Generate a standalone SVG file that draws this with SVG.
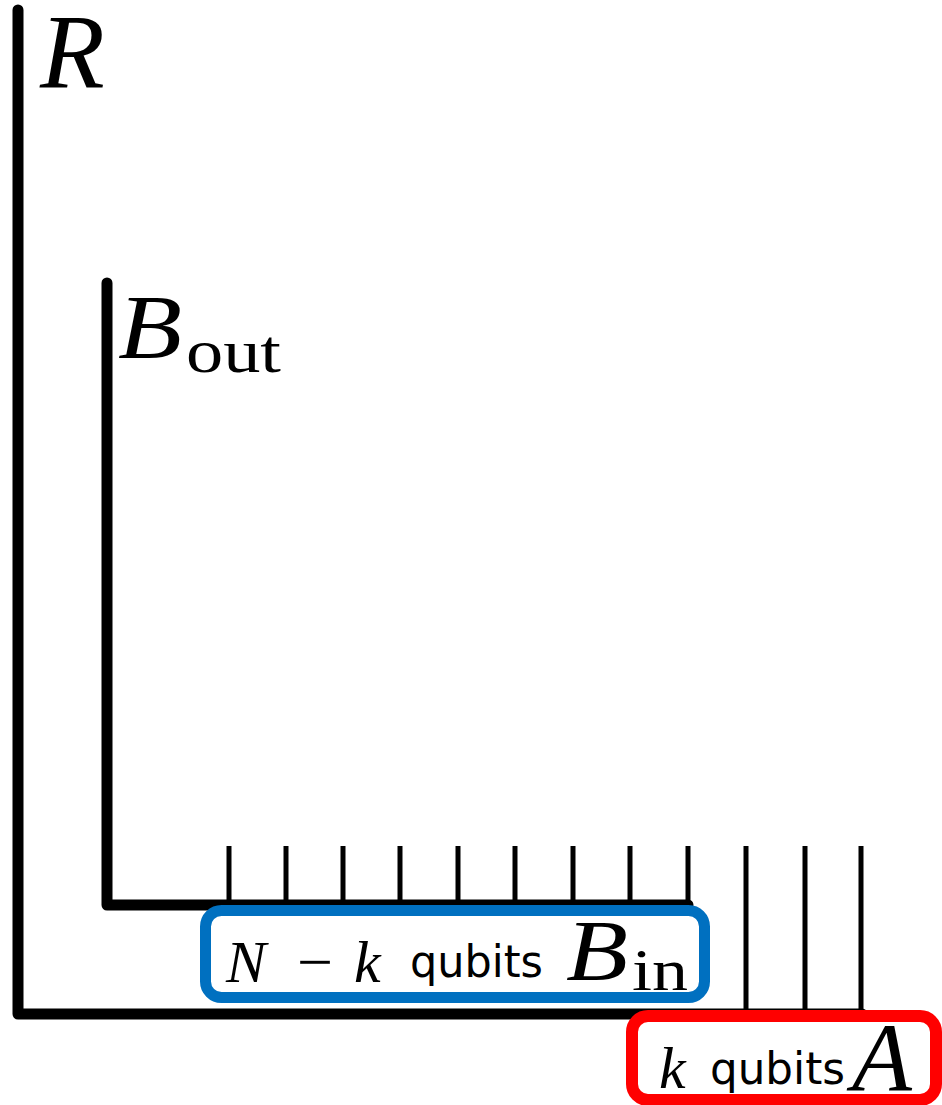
<svg xmlns="http://www.w3.org/2000/svg" width="942" height="1105" viewBox="0 0 942 1105">
<style>
.w{stroke:#000;fill:none;stroke-linecap:round;stroke-linejoin:round}
.thick{stroke-width:11}
.tick{stroke-width:5;stroke-linecap:butt}
.m{font-family:"Liberation Serif","DejaVu Serif",serif;font-style:italic;fill:#000}
.u{font-family:"Liberation Serif","DejaVu Serif",serif;fill:#000}
.s{font-family:"DejaVu Sans","Liberation Sans",sans-serif;fill:#000}
</style>
<rect width="942" height="1105" fill="#fff"/>
<g id="connectors">
  <path class="w thick" d="M18,10 V1014 H862"/>
  <path class="w thick" d="M107,283 V905 H688"/>
  <g class="w tick">
    <line x1="229" y1="846" x2="229" y2="905"/>
    <line x1="286" y1="846" x2="286" y2="905"/>
    <line x1="343" y1="846" x2="343" y2="905"/>
    <line x1="400" y1="846" x2="400" y2="905"/>
    <line x1="458" y1="846" x2="458" y2="905"/>
    <line x1="515" y1="846" x2="515" y2="905"/>
    <line x1="573" y1="846" x2="573" y2="905"/>
    <line x1="630" y1="846" x2="630" y2="905"/>
    <line x1="688" y1="846" x2="688" y2="905"/>
    <line x1="746" y1="846" x2="746" y2="1014"/>
    <line x1="805" y1="846" x2="805" y2="1014"/>
    <line x1="861" y1="846" x2="861" y2="1014"/>
  </g>
</g>
<g id="R">
  <text class="m" x="40" y="87" font-size="106">R</text>
</g>
<g id="Bout">
  <text class="m" x="118" y="358" font-size="90" textLength="64" lengthAdjust="spacingAndGlyphs">B</text>
  <text class="u" x="186" y="372" font-size="62" textLength="95" lengthAdjust="spacingAndGlyphs">out</text>
</g>
<g id="Bin">
  <rect x="205.5" y="910.5" width="499" height="87" rx="16" fill="#fff" stroke="#0070C0" stroke-width="11"/>
  <text class="m" x="226" y="982" font-size="60">N</text>
  <text class="u" x="297" y="982" font-size="60" textLength="36" lengthAdjust="spacingAndGlyphs">−</text>
  <text class="m" x="354" y="982" font-size="60">k</text>
  <text class="s" x="410" y="977" font-size="44" textLength="133" lengthAdjust="spacingAndGlyphs">qubits</text>
  <text class="m" x="566" y="980" font-size="86" textLength="62" lengthAdjust="spacingAndGlyphs">B</text>
  <text class="u" x="632" y="990" font-size="60" textLength="56" lengthAdjust="spacingAndGlyphs">in</text>
</g>
<g id="A">
  <rect x="632" y="1016" width="304" height="84" rx="16" fill="#fff" stroke="#FF0000" stroke-width="12"/>
  <text class="m" x="659" y="1088" font-size="60">k</text>
  <text class="s" x="710" y="1084" font-size="44" textLength="135" lengthAdjust="spacingAndGlyphs">qubits</text>
  <text class="m" x="852" y="1090" font-size="98">A</text>
</g>
</svg>
